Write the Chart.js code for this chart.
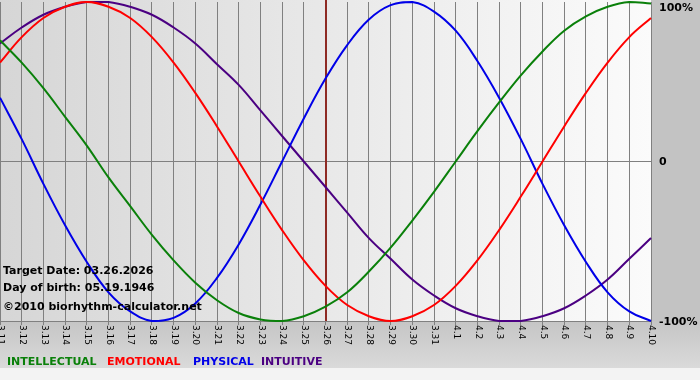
<!DOCTYPE html>
<html>
<head>
<meta charset="utf-8">
<script src="https://cdn.jsdelivr.net/npm/chart.js@4"></script>
<style>
  html, body { margin: 0; padding: 0; background: #c3c3c3; }
  canvas { display: block; }
</style>
</head>
<body>
<canvas id="bioChart" width="700" height="380"></canvas>
<script>
// Biorhythm values in percent, one point per day
const dayLabels = ['3.11','3.12','3.13','3.14','3.15','3.16','3.17','3.18','3.19','3.20',
  '3.21','3.22','3.23','3.24','3.25','3.26','3.27','3.28','3.29','3.30','3.31',
  '4.1','4.2','4.3','4.4','4.5','4.6','4.7','4.8','4.9','4.10'];
const intellectual = [76,62,46,28,10,-10,-28,-46,-62,-76,-87,-95,-99,-100,-97,-91,-82,-69,-54,-37,-19,0,19,37,54,69,82,91,97,100,99];
const emotional = [62,78,90,97,100,97,90,78,62,43,22,0,-22,-43,-62,-78,-90,-97,-100,-97,-90,-78,-62,-43,-22,0,22,43,62,78,90];
const physical = [40,14,-14,-40,-63,-82,-94,-100,-98,-89,-73,-52,-27,0,27,52,73,89,98,100,94,82,63,40,14,-14,-40,-63,-82,-94,-100];
const intuitive = [74,84,92,97,100,100,97,92,84,74,61,48,32,16,0,-16,-32,-48,-61,-74,-84,-92,-97,-100,-100,-97,-92,-84,-74,-61,-48];

const yTickValues = [100, 0, -100];
const yTickLabels = ['100%', '0', '-100%'];
const targetDay = '3.26';
const infoLines = ['Target Date: 03.26.2026', 'Day of birth: 05.19.1946', '\u00a92010 biorhythm-calculator.net'];
const seriesNames = ['INTELLECTUAL', 'EMOTIONAL', 'PHYSICAL', 'INTUITIVE'];
const seriesColors = ['#0a800a', '#ff0000', '#0000e8', '#4b0082'];
const legendX = [7, 107, 193, 261];

// backgrounds: grey frame + gradient plot area
const backgroundPlugin = {
  id: 'bioBackground',
  beforeDraw(chart) {
    const { ctx, chartArea: a, width, height } = chart;
    ctx.save();
    ctx.fillStyle = '#c3c3c3';
    ctx.fillRect(0, 0, width, height);
    const bottomGrad = ctx.createLinearGradient(0, a.bottom, 0, 368);
    bottomGrad.addColorStop(0, '#c5c5c5');
    bottomGrad.addColorStop(1, '#dadada');
    ctx.fillStyle = bottomGrad;
    ctx.fillRect(0, a.bottom, width, 368 - a.bottom);
    ctx.fillStyle = '#f3f3f3';
    ctx.fillRect(0, 368, width, height - 368);
    const plotGrad = ctx.createLinearGradient(a.left, 0, a.right, 0);
    plotGrad.addColorStop(0, '#d6d6d6');
    plotGrad.addColorStop(1, '#fbfbfb');
    ctx.fillStyle = plotGrad;
    ctx.fillRect(a.left, a.top - 2, a.right - a.left, a.bottom - a.top + 2);
    ctx.restore();
  }
};

// target date marker, drawn under the curves
const targetPlugin = {
  id: 'targetLine',
  beforeDatasetsDraw(chart) {
    const { ctx, chartArea: a, scales } = chart;
    const x = Math.round(scales.x.getPixelForValue(dayLabels.indexOf(targetDay)));
    ctx.save();
    ctx.strokeStyle = '#8e2a24';
    ctx.lineWidth = 2;
    ctx.beginPath();
    ctx.moveTo(x, a.top - 2);
    ctx.lineTo(x, a.bottom);
    ctx.stroke();
    ctx.restore();
  }
};

// rotated day labels, percent labels, info text and coloured legend
const labelsPlugin = {
  id: 'bioLabels',
  afterDraw(chart) {
    const { ctx, chartArea: a, scales } = chart;
    ctx.save();
    ctx.fillStyle = '#000';
    ctx.font = '9px "DejaVu Sans"';
    ctx.textAlign = 'left';
    ctx.textBaseline = 'middle';
    dayLabels.forEach((lbl, i) => {
      const x = scales.x.getPixelForValue(i);
      ctx.save();
      ctx.translate(x + 0.5, a.bottom + 4);
      ctx.rotate(Math.PI / 2);
      ctx.fillText(lbl, 0, 0);
      ctx.restore();
    });

    ctx.font = 'bold 11px "DejaVu Sans"';
    yTickValues.forEach((v, i) => {
      const y = Math.max(scales.y.getPixelForValue(v) + 1, 8);
      ctx.fillText(yTickLabels[i], a.right + 8, y);
    });

    const infoY = [271, 288, 307];
    infoLines.forEach((t, i) => ctx.fillText(t, 3, infoY[i]));

    seriesNames.forEach((name, i) => {
      ctx.fillStyle = seriesColors[i];
      ctx.fillText(name, legendX[i], 362);
    });
    ctx.restore();
  }
};

function makeSet(label, values, color) {
  return {
    label: label,
    data: values,
    borderColor: color,
    borderWidth: 2,
    pointRadius: 0,
    tension: 0.4,
    fill: false,
    clip: false
  };
}

document.addEventListener('DOMContentLoaded', function() {
  const ctx = document.getElementById('bioChart');
  new Chart(ctx.getContext('2d'), {
    type: 'line',
    data: {
      labels: dayLabels,
      datasets: [
        makeSet('Intellectual', intellectual, seriesColors[0]),
        makeSet('Emotional', emotional, seriesColors[1]),
        makeSet('Physical', physical, seriesColors[2]),
        makeSet('Intuitive', intuitive, seriesColors[3])
      ]
    },
    options: {
      responsive: false,
      animation: false,
      layout: { padding: { top: 2, left: 0, right: 0, bottom: 0 } },
      scales: {
        x: {
          offset: false,
          afterFit: (scale) => { scale.height = 59; },
          grid: { color: '#808080', lineWidth: 1, offset: false, tickLength: 4 },
          border: { display: true, color: '#808080' },
          ticks: { display: false }
        },
        y: {
          position: 'right',
          min: -100,
          max: 100,
          afterFit: (scale) => { scale.width = 49; },
          ticks: { display: false, stepSize: 100 },
          grid: {
            color: (c) => (c.tick && c.tick.value === 0 ? '#808080' : 'rgba(0,0,0,0)'),
            drawTicks: false
          },
          border: { display: false }
        }
      },
      plugins: {
        legend: { display: false },
        tooltip: { enabled: false }
      }
    },
    plugins: [backgroundPlugin, targetPlugin, labelsPlugin]
  });
});
</script>
</body>
</html>
